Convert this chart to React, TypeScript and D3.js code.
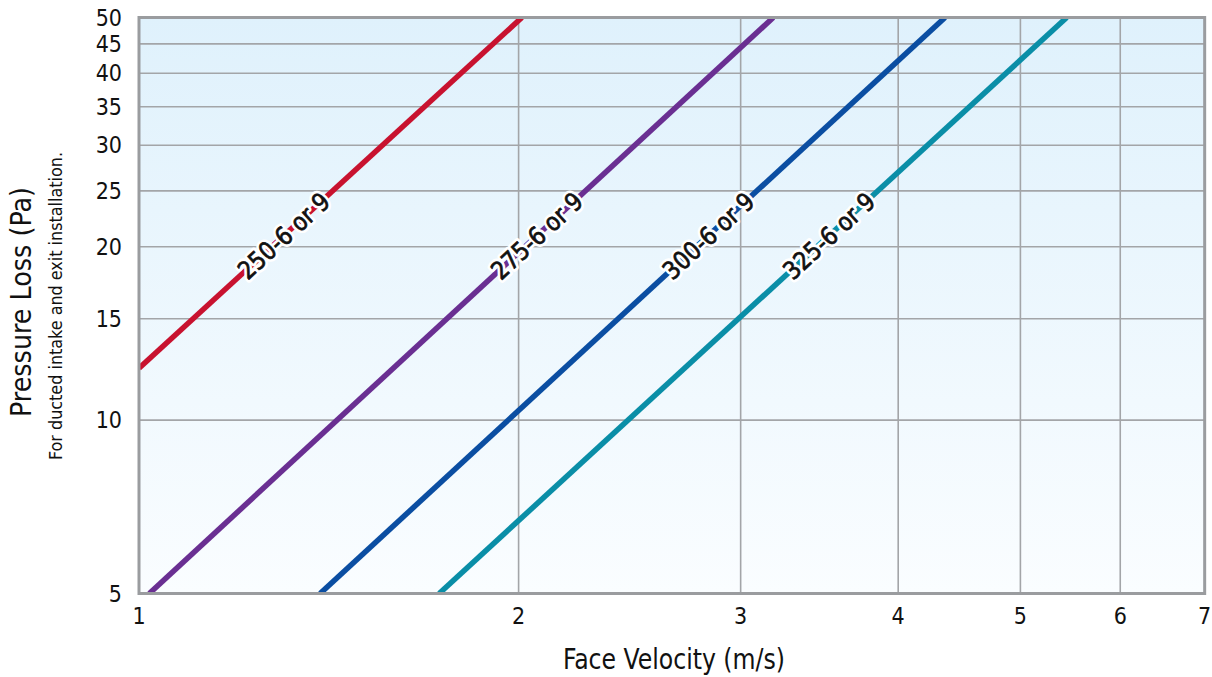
import React, { useEffect, useRef } from "react";
import * as d3 from "d3";

// face velocity (m/s) vs pressure loss (Pa), read at both ends of each line
const seriesNames = ["250-6 or 9", "275-6 or 9", "300-6 or 9", "325-6 or 9"];
const seriesColors = ["#c8122f", "#6a2f92", "#0b4ea2", "#0a8ea7"];
const velocityStart = [1.0, 1.019, 1.392, 1.73];
const pressureStart = [12.3, 5, 5, 5];
const velocityEnd = [2.012, 3.184, 4.357, 5.441];
const pressureEnd = [50, 50, 50, 50];
const labelPressure = 20.9;

const xTicks = [1, 2, 3, 4, 5, 6, 7];
const yTicks = [5, 10, 15, 20, 25, 30, 35, 40, 45, 50];

const FONT = "'Liberation Sans Narrow', 'DejaVu Sans Condensed', 'Roboto', sans-serif";

const App = () => {
    const container = useRef<SVGSVGElement>(null);

    useEffect(() => {
        const svg = d3.select(container.current);
        svg.selectAll("*").remove();

        const width = 1212, height = 677;
        const margin = { top: 17.5, right: 8, bottom: 83.5, left: 139 };
        const x0 = margin.left, x1 = x0 + Math.log10(7) * 1261;
        const y0 = margin.top, y1 = height - margin.bottom;

        const x = d3.scaleLog().domain([1, 7]).range([x0, x1]);
        const y = d3.scaleLog().domain([5, 50]).range([y1, y0]);

        const defs = svg.append("defs");
        const grad = defs.append("linearGradient")
            .attr("id", "bg").attr("x1", 0).attr("y1", 0).attr("x2", 0).attr("y2", 1);
        grad.append("stop").attr("offset", "0%").attr("stop-color", "#dff1fc");
        grad.append("stop").attr("offset", "100%").attr("stop-color", "#fafdff");
        defs.append("clipPath").attr("id", "plot")
            .append("rect").attr("x", x0).attr("y", y0)
            .attr("width", x1 - x0).attr("height", y1 - y0);

        svg.append("rect")
            .attr("x", x0).attr("y", y0)
            .attr("width", x1 - x0).attr("height", y1 - y0)
            .attr("fill", "url(#bg)");

        // grid
        svg.append("g").selectAll("line")
            .data(yTicks.slice(1, -1))
            .enter().append("line")
            .attr("x1", x0).attr("x2", x1)
            .attr("y1", (d) => y(d)).attr("y2", (d) => y(d))
            .attr("stroke", "#a3a5a8").attr("stroke-width", 1.6);
        svg.append("g").selectAll("line")
            .data(xTicks.slice(1, -1))
            .enter().append("line")
            .attr("y1", y0).attr("y2", y1)
            .attr("x1", (d) => x(d)).attr("x2", (d) => x(d))
            .attr("stroke", "#a3a5a8").attr("stroke-width", 1.6);

        // series lines
        const line = d3.line<[number, number]>()
            .x((d) => x(d[0]))
            .y((d) => y(d[1]));
        const lines = svg.append("g").attr("clip-path", "url(#plot)");
        seriesNames.forEach((name, i) => {
            const pts: [number, number][] = [
                [velocityStart[i], pressureStart[i]],
                [velocityEnd[i], pressureEnd[i]],
            ];
            lines.append("path")
                .attr("d", line(pts))
                .attr("fill", "none")
                .attr("stroke", seriesColors[i])
                .attr("stroke-width", 5.5);
        });

        // border
        svg.append("rect")
            .attr("x", x0).attr("y", y0)
            .attr("width", x1 - x0).attr("height", y1 - y0)
            .attr("fill", "none")
            .attr("stroke", "#9a9c9f").attr("stroke-width", 3);

        // labels along lines
        seriesNames.forEach((name, i) => {
            const lv0 = Math.log10(velocityStart[i]), lv1 = Math.log10(velocityEnd[i]);
            const lp0 = Math.log10(pressureStart[i]), lp1 = Math.log10(pressureEnd[i]);
            const t = (Math.log10(labelPressure) - lp0) / (lp1 - lp0);
            const lv = Math.pow(10, lv0 + t * (lv1 - lv0));
            const px = x(lv), py = y(labelPressure);
            const ax = x(velocityEnd[i]) - x(velocityStart[i]);
            const ay = y(pressureEnd[i]) - y(pressureStart[i]);
            const angle = Math.atan2(ay, ax) * 180 / Math.PI;
            const g = svg.append("g")
                .attr("transform", `translate(${px},${py}) rotate(${angle})`);
            [["#fff", 6], ["#111", 0.7]].forEach(([col, sw]) => {
                g.append("text")
                    .attr("text-anchor", "middle")
                    .attr("dy", "0.36em")
                    .attr("font-family", FONT)
                    .attr("font-size", 25)
                    .attr("textLength", 114)
                    .attr("lengthAdjust", "spacingAndGlyphs")
                    .attr("fill", "#111")
                    .attr("stroke", col as string)
                    .attr("stroke-width", sw as number)
                    .attr("stroke-linejoin", "round")
                    .text(name);
            });
        });

        // tick labels
        svg.append("g").selectAll("text")
            .data(xTicks)
            .enter().append("text")
            .attr("x", (d) => x(d))
            .attr("y", y1 + 30)
            .attr("text-anchor", "middle")
            .attr("font-family", FONT)
            .attr("font-size", 23)
            .attr("fill", "#111")
            .text((d) => d);
        svg.append("g").selectAll("text")
            .data(yTicks)
            .enter().append("text")
            .attr("x", x0 - 17)
            .attr("y", (d) => y(d))
            .attr("dy", "0.35em")
            .attr("text-anchor", "end")
            .attr("font-family", FONT)
            .attr("font-size", 23)
            .attr("fill", "#111")
            .text((d) => d);

        // axis titles
        svg.append("text")
            .attr("x", 674)
            .attr("y", 669)
            .attr("text-anchor", "middle")
            .attr("font-family", FONT)
            .attr("font-size", 29)
            .attr("textLength", 222)
            .attr("lengthAdjust", "spacingAndGlyphs")
            .attr("fill", "#111")
            .text("Face Velocity (m/s)");
        svg.append("text")
            .attr("transform", `translate(31,302) rotate(-90)`)
            .attr("text-anchor", "middle")
            .attr("font-family", FONT)
            .attr("font-size", 29)
            .attr("textLength", 230)
            .attr("lengthAdjust", "spacingAndGlyphs")
            .attr("fill", "#111")
            .text("Pressure Loss (Pa)");
        svg.append("text")
            .attr("transform", `translate(62,306) rotate(-90)`)
            .attr("text-anchor", "middle")
            .attr("font-family", FONT)
            .attr("font-size", 18)
            .attr("textLength", 308)
            .attr("lengthAdjust", "spacingAndGlyphs")
            .attr("fill", "#111")
            .text("For ducted intake and exit installation.");
    }, []);

    return (
        <svg ref={container} width={1212} height={677}
            style={{ position: "absolute", left: 0, top: 0 }}></svg>
    );
};

export default App;
